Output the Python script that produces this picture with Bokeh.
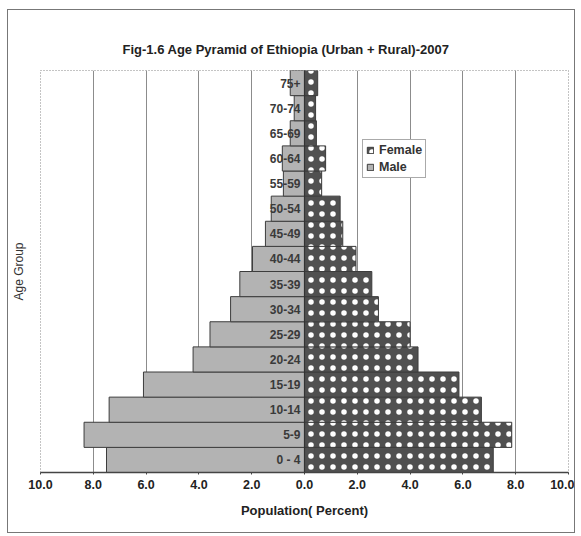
from bokeh.plotting import figure
from bokeh.models import (Range1d, FixedTicker, CustomJSTickFormatter,
                          Span, Legend, LegendItem, ColumnDataSource)
from bokeh.core.properties import value
from bokeh.embed import file_html
from bokeh.resources import INLINE

# ---- data (percent of total population), bottom to top ----
age_groups = ["0 - 4", "5-9", "10-14", "15-19", "20-24", "25-29", "30-34", "35-39",
              "40-44", "45-49", "50-54", "55-59", "60-64", "65-69", "70-74", "75+"]
male = [7.5, 8.35, 7.4, 6.1, 4.22, 3.58, 2.8, 2.45, 1.97, 1.48, 1.26, 0.8, 0.84, 0.54, 0.39, 0.54]
female = [7.15, 7.85, 6.7, 5.85, 4.3, 4.0, 2.8, 2.55, 1.95, 1.45, 1.35, 0.65, 0.8, 0.45, 0.42, 0.5]
x_ticks = [-10, -8, -6, -4, -2, 0, 2, 4, 6, 8, 10]

FONT = "Liberation Sans"

pos = list(range(len(age_groups)))
src = ColumnDataSource(dict(pos=pos, age=age_groups,
                            male_left=[-v for v in male],
                            female_right=female,
                            zero=[0] * len(age_groups)))

p = figure(width=568, height=524, output_backend="svg", toolbar_location=None,
           x_range=Range1d(-10, 10), y_range=Range1d(-0.5, len(age_groups) - 0.5),
           min_border_left=32, min_border_right=8, min_border_top=60, min_border_bottom=62,
           title="Fig-1.6 Age Pyramid of Ethiopia (Urban + Rural)-2007")
p.styles = {"border": "1px solid #777777", "margin-left": "7px", "margin-top": "9px"}

p.title.align = "left"
p.title.offset = 82
p.title.text_font = FONT
p.title.text_font_size = "13px"
p.title.text_font_style = "bold"
p.title.text_color = "#222222"
p.title.standoff = 28

# bars
male_r = p.hbar(y="pos", left="male_left", right="zero", height=1.0, source=src,
                fill_color="#b3b3b3", line_color="#3c3c3c", line_width=1)
female_r = p.hbar(y="pos", left="zero", right="female_right", height=1.0, source=src,
                  fill_color="#505050", line_color="#3c3c3c", line_width=1,
                  hatch_pattern="dot", hatch_color="white", hatch_scale=11, hatch_weight=11)

# category labels next to the zero axis
p.text(x="zero", y="pos", text="age", source=src, x_offset=-4,
       text_align="right", text_baseline="middle",
       text_font=value(FONT), text_font_size="12px", text_font_style="bold",
       text_color="#3a3a3a")

p.add_layout(Span(location=0, dimension="height", line_color="#333333", line_width=1.2))

# grid & frame
p.ygrid.grid_line_color = None
p.xgrid.ticker = FixedTicker(ticks=x_ticks)
p.xgrid.grid_line_color = "#8c8c8c"
p.xgrid.grid_line_width = 1
p.outline_line_color = "#888888"
p.outline_line_dash = "1 2"

# x axis
p.xaxis.ticker = FixedTicker(ticks=x_ticks)
p.xaxis.formatter = CustomJSTickFormatter(code="return Math.abs(tick).toFixed(1)")
p.xaxis.axis_label = "Population( Percent)"
p.xaxis.axis_label_text_font = FONT
p.xaxis.axis_label_text_font_size = "13px"
p.xaxis.axis_label_text_font_style = "bold"
p.xaxis.axis_label_text_color = "#222222"
p.xaxis.axis_label_standoff = 11
p.xaxis.major_label_text_font = FONT
p.xaxis.major_label_text_font_size = "12.5px"
p.xaxis.major_label_text_font_style = "bold"
p.xaxis.major_label_text_color = "#222222"
p.xaxis.major_label_standoff = 5
p.xaxis.axis_line_color = "#444444"
p.xaxis.axis_line_width = 1.5
p.xaxis.major_tick_in = 0
p.xaxis.major_tick_out = 2
p.xaxis.major_tick_line_color = "#444444"
p.xaxis.minor_tick_line_color = None

# y axis: only the title
p.yaxis.ticker = FixedTicker(ticks=[])
p.yaxis.axis_label = "Age Group"
p.yaxis.axis_label_text_font = FONT
p.yaxis.axis_label_text_font_size = "12px"
p.yaxis.axis_label_text_font_style = "normal"
p.yaxis.axis_label_text_color = "#333333"
p.yaxis.axis_label_standoff = 15
p.yaxis.major_tick_line_color = None
p.yaxis.minor_tick_line_color = None
p.yaxis.axis_line_color = None

legend = Legend(items=[LegendItem(label="Female", renderers=[female_r]),
                       LegendItem(label="Male", renderers=[male_r])],
                location=(322, 294))
legend.label_text_font = FONT
legend.label_text_font_size = "12.5px"
legend.label_text_font_style = "bold"
legend.label_text_color = "#333333"
legend.glyph_width = 8
legend.glyph_height = 8
legend.label_height = 14
legend.label_standoff = 5
legend.spacing = 3
legend.padding = 3
legend.margin = 0
legend.border_line_color = "#555555"
legend.border_line_width = 1
legend.background_fill_color = "white"
legend.background_fill_alpha = 1
p.add_layout(legend, "center")

open("out.html", "w").write(file_html(p, INLINE))
